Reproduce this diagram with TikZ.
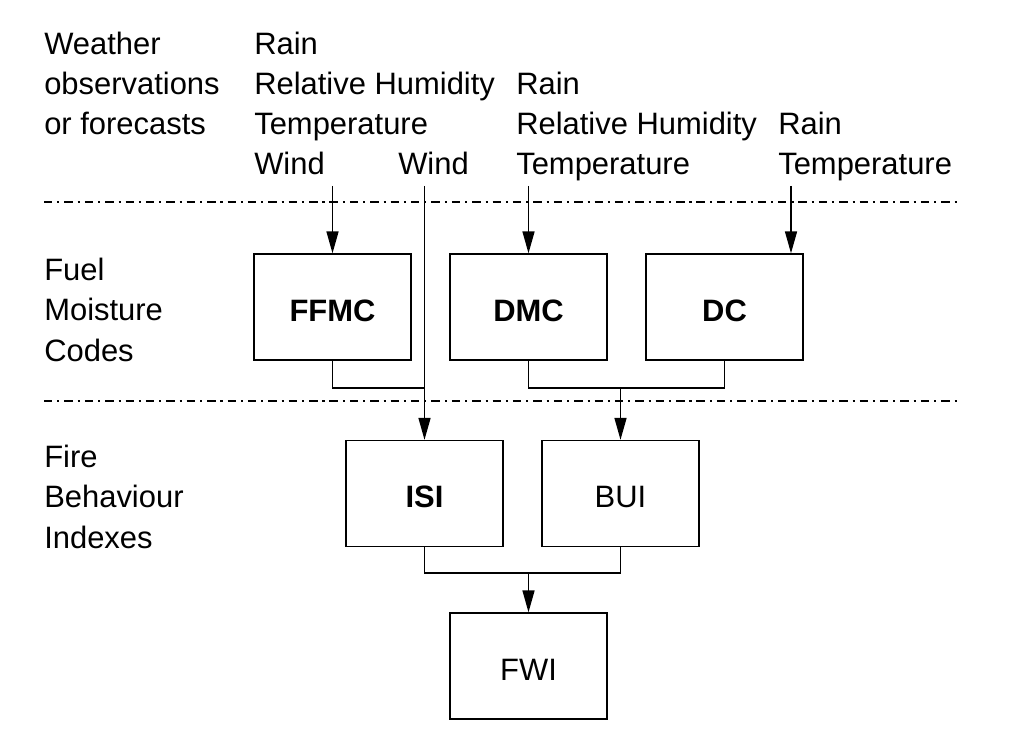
\documentclass[tikz,border=0pt]{standalone}
\usepackage{fontspec}
\setmainfont{Liberation Sans}
\usetikzlibrary{arrows.meta}
\tikzset{
    lbl/.style={font=\fontsize{22}{28.45}\selectfont, align=left, anchor=base west, inner sep=0pt},
    codebox/.style={draw, line width=1pt, minimum width=3.925cm, minimum height=2.65cm, text height=20pt, text depth=0pt, font=\fontsize{22}{28.45}\selectfont},
    conn/.style={line width=1pt},
    arr/.style={conn, -{Triangle[width=8.5pt,length=15.5pt]}},
    sep/.style={line width=1pt, dash pattern=on 6pt off 3.5pt on 1.5pt off 3.5pt}
}
\begin{document}
\begin{tikzpicture}[x=0.025cm, y=-0.025cm]
    \useasboundingbox (0,0) rectangle (1012,754);

    % Inputs (anchored at the baseline of the last line)
    \node[lbl] (weather) at (44,135) {Weather\\observations\\or forecasts};
    \node[lbl] (ffmcin) at (254,175) {Rain\\Relative Humidity\\Temperature\\Wind};
    \node[lbl] (windin) at (398,175) {Wind};
    \node[lbl] (dmcin) at (516,175) {Rain\\Relative Humidity\\Temperature};
    \node[lbl] (dcin) at (778,175) {Rain\\Temperature};
    \draw[sep] (44,202) -- (958,202);

    % Fuel moisture codes
    \node[lbl] (fuel) at (44,361) {Fuel\\Moisture\\Codes};
    \node[codebox] (ffmc) at (332.5,307) {\textbf{FFMC}};
    \node[codebox] (dmc) at (528.5,307) {\textbf{DMC}};
    \node[codebox] (dc) at (724.5,307) {\textbf{DC}};
    \draw[sep] (44,401) -- (958,401);

    % Fire behaviour indexes
    \node[lbl] (fire) at (44,548) {Fire\\Behaviour\\Indexes};
    \node[codebox] (isi) at (424.5,493.5) {\textbf{ISI}};
    \node[codebox] (bui) at (620.5,493.5) {BUI};
    \node[codebox] (fwi) at (528.5,666) {FWI};

    % Connectors
    \coordinate (top) at (0,186);
    \coordinate (mcjoin) at (0,388);
    \coordinate (fbjoin) at (0,573);
    \coordinate (dcarr) at (791,186);
    \draw[arr] (ffmc.north |- top) -- (ffmc.north);
    \draw[arr] (isi.north |- top) -- (isi.north);
    \draw[arr] (dmc.north |- top) -- (dmc.north);
    \draw[arr] (dcarr) -- (dcarr |- dc.north);
    \draw[conn] (ffmc.south) |- (isi.north |- mcjoin);
    \draw[conn] (dmc.south) |- (dc.south |- mcjoin) -- (dc.south);
    \draw[arr] (bui.north |- mcjoin) -- (bui.north);
    \draw[conn] (isi.south) |- (bui.south |- fbjoin) -- (bui.south);
    \draw[arr] (fwi.north |- fbjoin) -- (fwi.north);
\end{tikzpicture}
\end{document}
